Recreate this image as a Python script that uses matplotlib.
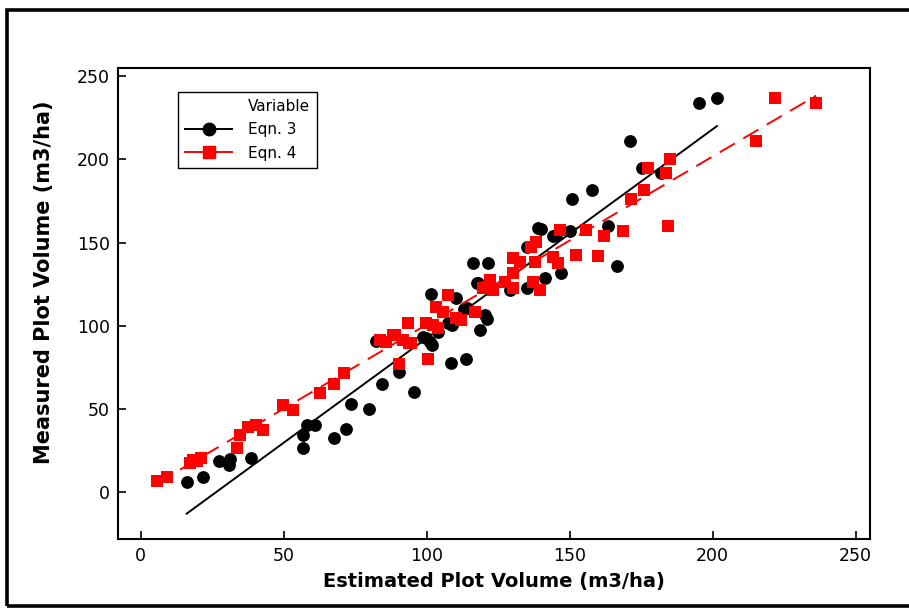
import matplotlib
matplotlib.use("Agg")
import matplotlib.pyplot as plt
import numpy as np
from matplotlib.lines import Line2D
from matplotlib.patches import Rectangle

# ---- data ----
eqn3_est = [16, 21.7, 27.3, 31.1, 30.8, 38.5, 56.6, 56.6, 58, 60.8, 67.5, 71.7, 73.4, 79.7,
            84.5, 90.2, 95.6, 82.4, 99.9, 101.6, 110.4, 101, 112.9, 120.3, 118.5, 108.6,
            113.6, 117.4, 107.4, 109, 116.2, 121.5, 138.9, 134.9, 145.3, 117.9, 141.3, 147.1,
            134.9, 129, 113.9, 150.9, 157.9, 175.4, 163.4, 150, 144.2, 140.1, 166.5, 195.2,
            201.5, 171, 182, 98.6, 101.7, 120.9, 104]
eqn3_meas = [6, 9, 18.6, 19.8, 16.2, 20.4, 34.3, 26.4, 40.3, 40.3, 32.5, 37.6, 52.5, 49.7,
             64.9, 71.9, 59.9, 90.7, 92.4, 119, 116.4, 90.3, 109.8, 106.4, 97.4, 77.3,
             79.7, 125.4, 101.4, 100.4, 137.4, 137.4, 158.5, 147.4, 154.4, 125.4, 128.4, 131.4,
             122.4, 121.4, 110.4, 175.9, 181.9, 195.1, 159.9, 157, 153.8, 157.9, 135.8, 234.2,
             237.2, 211.1, 191.9, 93, 88.4, 104, 96]

eqn4_est = [5.5, 9, 17.1, 18.2, 21, 33.5, 34.6, 37.5, 40.4, 42.8, 49.8, 53.3, 62.6, 67.6,
            71.1, 93.5, 83.6, 88.2, 91.7, 94.6, 90.3, 99.9, 100.5, 85.9, 107.5, 103.4, 105.7,
            110.4, 102.2, 88.8, 93.9, 116.8, 112.1, 120.9, 123.2, 104, 146.5, 138.3, 136.6,
            130.2, 132.5, 137.8, 144.2, 145.9, 130.2, 122, 127.3, 130.2, 119.7, 137.2, 139.5,
            155.8, 161.9, 168.6, 171.6, 176, 152.1, 159.9, 221.7, 236.2, 215.3, 185, 177.4,
            183.8, 184.4, 19.5]
eqn4_meas = [6.2, 8.6, 17.4, 19.2, 20.4, 26.2, 34.3, 39.2, 40.3, 37.3, 52.3, 49.3, 59.3, 64.9,
             71.7, 101.7, 91.3, 94.3, 91.3, 89.4, 76.7, 101.4, 79.7, 90.3, 118.4, 111.4, 108.4,
             104.4, 100.4, 94.3, 89.4, 108.4, 103.4, 123.4, 121.4, 98.4, 157.5, 150.4, 147.4,
             140.4, 138.4, 138.4, 141.4, 137.4, 131.4, 127.4, 126.4, 122.4, 122.4, 126.4, 121.4,
             157.5, 153.8, 157, 175.9, 181.9, 142.4, 141.8, 237.2, 234.2, 211.1, 200, 195.1,
             191.9, 160, 18.5]

# fitted line coefficients
fit3_slope, fit3_intercept = 1.258, -33.4
fit4_slope, fit4_intercept = 1.012, -0.6

legend_title = "Variable"
series_names = ["Eqn. 3", "Eqn. 4"]
xticks = [0, 50, 100, 150, 200, 250]
yticks = [0, 50, 100, 150, 200, 250]

fig = plt.figure(figsize=(9.09, 6.08), dpi=100)
ax = fig.add_axes([0.1298, 0.1135, 0.8272, 0.7745])

x3 = np.array(eqn3_est); y3 = np.array(eqn3_meas)
x4 = np.array(eqn4_est); y4 = np.array(eqn4_meas)

ax.scatter(x3, y3, s=85, marker='o', color='black', zorder=2, linewidths=0)
xl3 = np.array([x3.min(), x3.max()])
ax.plot(xl3, fit3_slope * xl3 + fit3_intercept, color='black', lw=1.4, zorder=3)

ax.scatter(x4, y4, s=85, marker='s', color='#ff0000', zorder=4, linewidths=0)
xl4 = np.array([x4.min(), x4.max()])
ax.plot(xl4, fit4_slope * xl4 + fit4_intercept, color='#ff0000', lw=1.4,
        dashes=(9, 5), zorder=5)

ax.set_xlim(-8, 255)
ax.set_ylim(-28.5, 255)
ax.set_xticks(xticks)
ax.set_yticks(yticks)
ax.tick_params(direction='in', length=6, width=1.2, labelsize=12.5, pad=6)
for s in ax.spines.values():
    s.set_linewidth(1.5)

ax.set_xlabel("Estimated Plot Volume (m3/ha)", fontsize=14, fontweight='bold', labelpad=5)
ax.set_ylabel("Measured Plot Volume (m3/ha)", fontsize=15, fontweight='bold')
ax.yaxis.set_label_coords(-0.085, 0.546)

handles = [Line2D([], [], linestyle='none', marker=None),
           Line2D([0], [0], color='black', lw=1.4, marker='o', markersize=9),
           Line2D([0], [0], color='#ff0000', lw=1.4, marker='s', markersize=8)]
leg = ax.legend(handles, [legend_title] + series_names, loc='upper left',
                bbox_to_anchor=(0.08, 0.949), borderaxespad=0, fontsize=11,
                fancybox=False, edgecolor='black', framealpha=1, borderpad=0.45,
                handlelength=3.1, handletextpad=1.0, labelspacing=0.55)
leg.get_frame().set_linewidth(1.0)

# outer border of the graph window
fig.patches.append(Rectangle((0.0077, 0.004), 1.0, 0.98, transform=fig.transFigure,
                             fill=False, edgecolor='black', lw=2.6))

fig.savefig("out.png", dpi=100)
